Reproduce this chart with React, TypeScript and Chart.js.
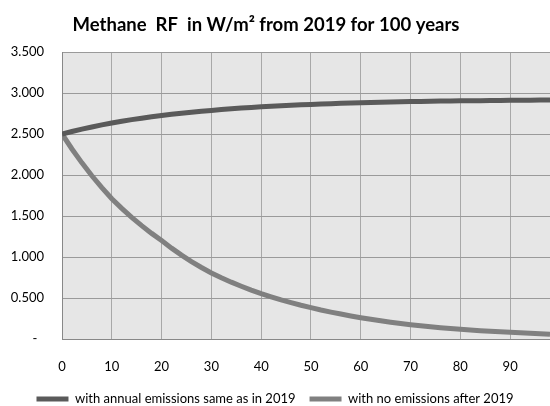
import { useEffect, useRef } from 'react';
import { Chart, registerables } from 'chart.js';

Chart.register(...registerables);

// Years after 2019 (sampled every 2 years)
const years = [
  0, 2, 4, 6, 8, 10, 12, 14, 16, 18, 20, 22, 24, 26, 28, 30, 32, 34, 36, 38,
  40, 42, 44, 46, 48, 50, 52, 54, 56, 58, 60, 62, 64, 66, 68, 70, 72, 74, 76, 78,
  80, 82, 84, 86, 88, 90, 92, 94, 96, 98,
];

// Methane RF (W/m2) with annual emissions same as in 2019
const sameEmissions = [
  2.500, 2.531, 2.560, 2.586, 2.611, 2.634, 2.655, 2.675, 2.693, 2.710,
  2.726, 2.740, 2.754, 2.766, 2.778, 2.788, 2.798, 2.808, 2.816, 2.824,
  2.831, 2.838, 2.845, 2.850, 2.856, 2.861, 2.866, 2.870, 2.874, 2.878,
  2.881, 2.884, 2.887, 2.890, 2.893, 2.895, 2.897, 2.899, 2.901, 2.903,
  2.904, 2.906, 2.907, 2.909, 2.910, 2.911, 2.912, 2.913, 2.914, 2.915,
];

// Methane RF (W/m2) with no emissions after 2019
const noEmissions = [
  2.500, 2.317, 2.148, 1.991, 1.846, 1.710, 1.593, 1.484, 1.382, 1.288,
  1.200, 1.108, 1.023, 0.944, 0.872, 0.805, 0.747, 0.693, 0.643, 0.596,
  0.553, 0.514, 0.477, 0.444, 0.412, 0.383, 0.354, 0.328, 0.304, 0.281,
  0.260, 0.240, 0.222, 0.205, 0.190, 0.175, 0.162, 0.149, 0.138, 0.128,
  0.118, 0.110, 0.102, 0.095, 0.088, 0.082, 0.075, 0.069, 0.063, 0.058,
];

const xTicks = [0, 10, 20, 30, 40, 50, 60, 70, 80, 90];
const yTicks = [0, 0.5, 1, 1.5, 2, 2.5, 3, 3.5];

const seriesNames = ['with annual emissions same as in 2019', 'with no emissions after 2019'];
const seriesColors = ['#5a5a5a', '#808080'];
const titleText = 'Methane  RF  in W/m\u00B2 from 2019 for 100 years    ';

const FONT = 'Lato, "Open Sans", "DejaVu Sans", sans-serif';

const plotBg = {
  id: 'plotBg',
  beforeDraw(chart: any) {
    const { ctx, chartArea } = chart;
    if (!chartArea) return;
    ctx.save();
    ctx.fillStyle = '#e6e6e6';
    ctx.fillRect(chartArea.left, chartArea.top, chartArea.right - chartArea.left, chartArea.bottom - chartArea.top);
    ctx.restore();
  },
};

export default function App() {
  const ref = useRef<HTMLCanvasElement | null>(null);

  useEffect(() => {
    if (!ref.current) return;
    const toPoints = (vals: number[]) => years.map((x, i) => ({ x, y: vals[i] }));
    const chart = new Chart(ref.current, {
      type: 'line',
      data: {
        datasets: [
          {
            label: seriesNames[0],
            data: toPoints(sameEmissions),
            borderColor: seriesColors[0],
            backgroundColor: seriesColors[0],
            borderWidth: 5,
            pointRadius: 0,
            tension: 0,
            fill: false,
          },
          {
            label: seriesNames[1],
            data: toPoints(noEmissions),
            borderColor: seriesColors[1],
            backgroundColor: seriesColors[1],
            borderWidth: 5,
            pointRadius: 0,
            tension: 0,
            fill: false,
          },
        ],
      },
      options: {
        animation: false,
        responsive: false,
        maintainAspectRatio: false,
        layout: { padding: { left: 0, right: 0, top: 0, bottom: -9.5 } },
        plugins: {
          title: {
            display: true,
            text: titleText,
            color: '#000',
            font: { family: FONT, size: 18.5, weight: 'bold', lineHeight: 1.2 },
            padding: { top: 14, bottom: 15.8 },
          },
          legend: {
            display: true,
            position: 'bottom',
            labels: {
              boxWidth: 32,
              boxHeight: 5,
              color: '#000',
              padding: 14,
              font: { family: FONT, size: 13 },
              generateLabels: (chart: any) =>
                Chart.defaults.plugins.legend.labels.generateLabels(chart).map((it: any) => ({
                  ...it,
                  lineWidth: 0,
                  fillStyle: it.strokeStyle,
                })),
            },
          },
          tooltip: { enabled: false },
        },
        scales: {
          x: {
            type: 'linear',
            min: 0,
            max: 98,
            afterBuildTicks: (axis: any) => {
              axis.ticks = xTicks.map((v) => ({ value: v }));
            },
            afterFit: (scale: any) => {
              scale.height = 39.5;
            },
            ticks: {
              padding: 20,
              color: '#000',
              font: { family: FONT, size: 13 },
              maxRotation: 0,
              autoSkip: false,
              callback: (v: any) => String(v),
            },
            grid: { color: '#a8a8a8', drawTicks: false, lineWidth: 1 },
            border: { color: '#888888', width: 1 },
          },
          y: {
            type: 'linear',
            min: 0,
            max: 3.5,
            afterBuildTicks: (axis: any) => {
              axis.ticks = yTicks.map((v) => ({ value: v }));
            },
            afterFit: (scale: any) => {
              scale.width = 62;
            },
            ticks: {
              padding: 18,
              color: '#000',
              font: { family: FONT, size: 13 },
              callback: (v: any) => (Number(v) === 0 ? '-  ' : Number(v).toFixed(3)),
            },
            grid: { color: '#9a9a9a', drawTicks: false, lineWidth: 1 },
            border: { color: '#888888', width: 1 },
          },
        },
      },
      plugins: [plotBg],
    });
    return () => chart.destroy();
  }, []);

  return (
    <div style={{ position: 'fixed', left: 0, top: 0, width: 550, height: 406, background: '#fff' }}>
      <canvas ref={ref} width={550} height={406} style={{ display: 'block', width: 550, height: 406 }} />
    </div>
  );
}
